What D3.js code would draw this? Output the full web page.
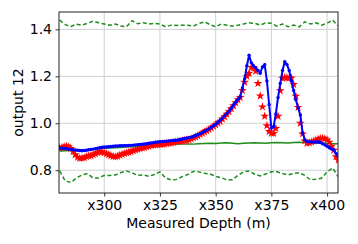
<!DOCTYPE html>
<html>
<head>
<meta charset="utf-8">
<script src="https://cdn.jsdelivr.net/npm/d3@7"></script>
<style>
  body { margin: 0; background: #fff; }
  svg text { font-family: "DejaVu Sans", sans-serif; }
</style>
</head>
<body>
<svg id="chart" width="358" height="244"></svg>
<script>
// depth samples for the measured (red) and predicted (blue) curves, 1 m step
const depths = d3.range(280, 406, 1);

const measured = [
  0.894, 0.897, 0.900, 0.903, 0.900, 0.893, 0.880, 0.866, 0.855, 0.851,
  0.852, 0.853, 0.858, 0.861, 0.862, 0.866, 0.870, 0.875, 0.879, 0.878,
  0.874, 0.870, 0.866, 0.862, 0.859, 0.857, 0.860, 0.864, 0.868, 0.871,
  0.874, 0.877, 0.879, 0.883, 0.886, 0.889, 0.892, 0.895, 0.897, 0.900,
  0.902, 0.905, 0.907, 0.908, 0.909, 0.910, 0.911, 0.912, 0.914, 0.915,
  0.916, 0.918, 0.920, 0.922, 0.924, 0.925, 0.927, 0.928, 0.930, 0.934,
  0.938, 0.942, 0.947, 0.952, 0.958, 0.963, 0.968, 0.974, 0.980, 0.987,
  0.994, 1.001, 1.008, 1.018, 1.028, 1.039, 1.049, 1.062, 1.075, 1.088,
  1.100, 1.110, 1.140, 1.175, 1.200, 1.213, 1.238, 1.238, 1.222, 1.170,
  1.116, 1.070, 1.030, 0.990, 0.965, 0.958, 0.957, 0.978, 1.030, 1.139,
  1.192, 1.195, 1.194, 1.193, 1.193, 1.165, 1.115, 1.068, 1.000, 0.955,
  0.925, 0.915, 0.917, 0.920, 0.924, 0.928, 0.932, 0.935, 0.937, 0.934,
  0.929, 0.920, 0.902, 0.885, 0.858, 0.843
];

const predicted = [
  0.895, 0.894, 0.893, 0.892, 0.890, 0.889, 0.887, 0.886, 0.885, 0.884,
  0.883, 0.884, 0.885, 0.887, 0.888, 0.890, 0.892, 0.894, 0.896, 0.898,
  0.899, 0.899, 0.900, 0.901, 0.902, 0.903, 0.903, 0.904, 0.904, 0.905,
  0.905, 0.906, 0.906, 0.907, 0.908, 0.909, 0.910, 0.911, 0.912, 0.913,
  0.915, 0.916, 0.917, 0.919, 0.920, 0.921, 0.922, 0.923, 0.924, 0.925,
  0.926, 0.927, 0.928, 0.929, 0.931, 0.933, 0.935, 0.937, 0.939, 0.941,
  0.944, 0.948, 0.952, 0.956, 0.961, 0.966, 0.971, 0.976, 0.982, 0.989,
  0.996, 1.004, 1.013, 1.022, 1.032, 1.042, 1.052, 1.065, 1.078, 1.090,
  1.102, 1.113, 1.150, 1.190, 1.245, 1.290, 1.258, 1.245, 1.236, 1.225,
  1.213, 1.240, 1.250, 1.180, 1.080, 0.980, 0.985, 1.040, 1.110, 1.170,
  1.225, 1.262, 1.250, 1.225, 1.180, 1.140, 1.100, 1.065, 1.035, 0.960,
  0.930, 0.922, 0.921, 0.920, 0.920, 0.920, 0.920, 0.918, 0.913, 0.908,
  0.902, 0.896, 0.890, 0.886, 0.872, 0.860
];

// green band curves, 2.5 m step
const bandDepths = d3.range(280, 405.1, 2.5);

const upperBand = [
  1.440, 1.420, 1.412, 1.422, 1.418, 1.426, 1.435, 1.428, 1.423, 1.418,
  1.423, 1.414, 1.411, 1.437, 1.424, 1.428, 1.423, 1.426, 1.423, 1.411,
  1.418, 1.417, 1.418, 1.418, 1.414, 1.425, 1.432, 1.420, 1.411, 1.423,
  1.418, 1.414, 1.418, 1.423, 1.428, 1.426, 1.418, 1.428, 1.426, 1.414,
  1.423, 1.411, 1.418, 1.411, 1.432, 1.423, 1.428, 1.418, 1.426, 1.440,
  1.414
];

const lowerBand = [
  0.797, 0.754, 0.748, 0.767, 0.780, 0.786, 0.767, 0.767, 0.778, 0.778,
  0.780, 0.790, 0.797, 0.789, 0.778, 0.780, 0.774, 0.782, 0.793, 0.767,
  0.759, 0.761, 0.773, 0.782, 0.795, 0.793, 0.787, 0.784, 0.774, 0.768,
  0.759, 0.759, 0.778, 0.793, 0.797, 0.783, 0.776, 0.784, 0.793, 0.793,
  0.786, 0.780, 0.786, 0.789, 0.778, 0.759, 0.762, 0.766, 0.793, 0.810,
  0.772
];

const meanBand = [
  0.882, 0.883, 0.884, 0.885, 0.886, 0.887, 0.889, 0.891, 0.893, 0.894,
  0.896, 0.897, 0.899, 0.900, 0.902, 0.904, 0.905, 0.907, 0.908, 0.909,
  0.910, 0.911, 0.911, 0.912, 0.911, 0.913, 0.914, 0.915, 0.914, 0.916,
  0.917, 0.915, 0.913, 0.915, 0.916, 0.917, 0.916, 0.915, 0.917, 0.918,
  0.917, 0.916, 0.918, 0.919, 0.918, 0.917, 0.916, 0.915, 0.914, 0.913,
  0.913
];

const xTicks = [300, 325, 350, 375, 400];
const yTicks = [0.8, 1.0, 1.2, 1.4];

const width = 358, height = 244;
const margin = {top: 12, right: 20, bottom: 51, left: 59};

const svg = d3.select("#chart");

const x = d3.scaleLinear([279.7, 404.9], [margin.left, width - margin.right]);
const y = d3.scaleLinear([0.703, 1.474], [height - margin.bottom, margin.top]);

svg.append("defs").append("clipPath")
    .attr("id", "plotclip")
  .append("rect")
    .attr("x", margin.left)
    .attr("y", margin.top)
    .attr("width", width - margin.left - margin.right)
    .attr("height", height - margin.top - margin.bottom);

// grid
svg.append("g")
    .attr("stroke", "#d0d0d0")
    .attr("stroke-width", 1)
  .call(g => g.selectAll(".vx")
    .data(xTicks)
    .join("line")
      .attr("x1", d => x(d)).attr("x2", d => x(d))
      .attr("y1", margin.top).attr("y2", height - margin.bottom))
  .call(g => g.selectAll(".hy")
    .data(yTicks)
    .join("line")
      .attr("y1", d => y(d)).attr("y2", d => y(d))
      .attr("x1", margin.left).attr("x2", width - margin.right));

const plot = svg.append("g").attr("clip-path", "url(#plotclip)");

const bandLine = vals => d3.line()
    .x((d, i) => x(bandDepths[i]))
    .y(d => y(d))(vals);

[upperBand, lowerBand].forEach(vals => {
  plot.append("path")
      .attr("d", bandLine(vals))
      .attr("fill", "none")
      .attr("stroke", "#1c8c1c")
      .attr("stroke-width", 1.5)
      .attr("stroke-dasharray", "4,2.5");
});

plot.append("path")
    .attr("d", bandLine(meanBand))
    .attr("fill", "none")
    .attr("stroke", "#1c8c1c")
    .attr("stroke-width", 1.4);

// measured: red stars
const star = d3.symbol(d3.symbolStar, 24);
plot.append("g")
    .attr("fill", "#ff0000")
  .selectAll("path")
  .data(measured)
  .join("path")
    .attr("transform", (d, i) => `translate(${x(depths[i])},${y(d)})`)
    .attr("d", star);

// predicted: blue line with small markers
plot.append("path")
    .attr("d", d3.line().x((d, i) => x(depths[i])).y(d => y(d))(predicted))
    .attr("fill", "none")
    .attr("stroke", "#0000ff")
    .attr("stroke-width", 2);

plot.append("g")
    .attr("fill", "#0000ff")
  .selectAll("circle")
  .data(predicted)
  .join("circle")
    .attr("cx", (d, i) => x(depths[i]))
    .attr("cy", d => y(d))
    .attr("r", 1.7);

// axes
const xAxis = svg.append("g")
    .attr("transform", `translate(0,${height - margin.bottom})`)
    .call(d3.axisBottom(x).tickValues(xTicks).tickFormat(d => "x" + d)
      .tickSize(3.5).tickPadding(3.5));

const yAxis = svg.append("g")
    .attr("transform", `translate(${margin.left},0)`)
    .call(d3.axisLeft(y).tickValues(yTicks).tickFormat(d3.format(".1f"))
      .tickSize(3.5).tickPadding(3.5));

[xAxis, yAxis].forEach(g => {
  g.select(".domain").remove();
  g.selectAll(".tick line").attr("stroke", "#000").attr("stroke-width", 0.8);
  g.selectAll(".tick text")
    .attr("fill", "#000")
    .attr("font-size", 14)
    .attr("font-family", "DejaVu Sans, sans-serif");
});

// frame
svg.append("rect")
    .attr("x", margin.left)
    .attr("y", margin.top)
    .attr("width", width - margin.left - margin.right)
    .attr("height", height - margin.top - margin.bottom)
    .attr("fill", "none")
    .attr("stroke", "#222")
    .attr("stroke-width", 1);

svg.append("text")
    .attr("x", (margin.left + width - margin.right) / 2)
    .attr("y", 228)
    .attr("text-anchor", "middle")
    .attr("font-size", 14)
    .text("Measured Depth (m)");

svg.append("text")
    .attr("transform", `translate(23,${(margin.top + height - margin.bottom) / 2}) rotate(-90)`)
    .attr("text-anchor", "middle")
    .attr("font-size", 14)
    .text("output 12");
</script>
</body>
</html>
